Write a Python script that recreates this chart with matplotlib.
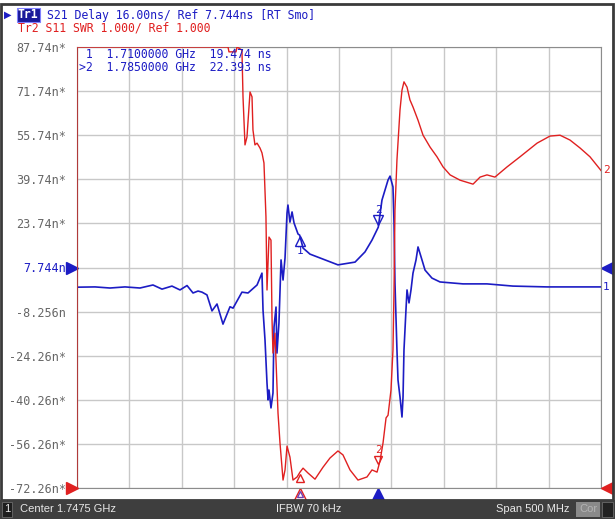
import numpy as np
import matplotlib.pyplot as plt
from matplotlib.patches import Rectangle
from matplotlib.transforms import offset_copy, blended_transform_factory

BLUE = '#1c1cc4'
RED = '#e02020'
GRID = '#c8c8c8'

# sweep settings (GHz)
center_ghz = 1.7475
span_ghz = 0.5
f_start = center_ghz - span_ghz / 2
f_stop = center_ghz + span_ghz / 2

# Tr1: S21 group delay, 16 ns/div, ref 7.744 ns at centre line
delay_ref = 7.744
delay_div = 16.0
# Tr2: S11 SWR, 1/div, ref 1.000 at bottom line
swr_ref = 1.0
swr_div = 1.0

ytick_labels = ['87.74n*', '71.74n*', '55.74n*', '39.74n*', '23.74n*', '7.744n',
                '-8.256n', '-24.26n*', '-40.26n*', '-56.26n*', '-72.26n*']

delay_freq = [1.4975, 1.5147, 1.5290, 1.5433, 1.5576, 1.5700, 1.5786, 1.5881, 1.5958,
              1.6025, 1.6082, 1.6130, 1.6168, 1.6215, 1.6263, 1.6311, 1.6368, 1.6435,
              1.6464, 1.6549, 1.6607, 1.6693, 1.6740, 1.6750, 1.6769, 1.6788, 1.6798,
              1.6807, 1.6826, 1.6845, 1.6855, 1.6874, 1.6883, 1.6902, 1.6922, 1.6941,
              1.6960, 1.6979, 1.6988, 1.7007, 1.7027, 1.7046, 1.7084, 1.7100, 1.7132,
              1.7198, 1.7294, 1.7465, 1.7628, 1.7723, 1.7790, 1.7850, 1.7885, 1.7943,
              1.7962, 1.7990, 1.8000, 1.8009, 1.8028, 1.8038, 1.8057, 1.8076, 1.8086,
              1.8095, 1.8114, 1.8124, 1.8143, 1.8162, 1.8181, 1.8210, 1.8229, 1.8258,
              1.8296, 1.8362, 1.8439, 1.8658, 1.8887, 1.9135, 1.9460, 1.9975]
delay_ns = [0.6, 0.7, 0.3, 0.7, 0.3, 1.4, -0.1, 1.0, -0.4,
            1.2, -1.5, -0.8, -1.2, -2.2, -8.0, -5.5, -12.8, -6.5,
            -7.0, -1.2, -1.5, 1.4, 5.7, -7.7, -18.6, -34.2, -40.3,
            -36.7, -43.2, -37.8, -13.8, -6.6, -23.3, -12.4, 10.5, 3.2,
            11.2, 27.5, 30.4, 24.2, 27.9, 23.9, 19.9, 19.474, 14.8,
            12.6, 11.2, 8.7, 9.7, 13.4, 17.7, 22.393, 32.2, 39.5,
            40.9, 37.0, 23.9, 2.1, -22.2, -33.1, -39.2, -46.5, -39.2,
            -22.2, -7.7, -0.4, -5.1, -0.4, 5.7, 10.5, 15.2, 11.6,
            6.8, 3.9, 2.5, 1.8, 1.8, 1.0, 0.7, 0.7]

swr_freq = [1.4975, 1.6416, 1.6425, 1.6492, 1.6502, 1.6549, 1.6559, 1.6578, 1.6597,
            1.6626, 1.6645, 1.6654, 1.6673, 1.6693, 1.6721, 1.6740, 1.6759, 1.6778,
            1.6788, 1.6807, 1.6826, 1.6836, 1.6845, 1.6864, 1.6893, 1.6912, 1.6941,
            1.6960, 1.6979, 1.7007, 1.7036, 1.7075, 1.7103, 1.7132, 1.7179, 1.7246,
            1.7322, 1.7389, 1.7465, 1.7513, 1.7580, 1.7656, 1.7742, 1.7790, 1.7838,
            1.7866, 1.7895, 1.7924, 1.7943, 1.7971, 1.7990, 1.8000, 1.8009, 1.8028,
            1.8057, 1.8076, 1.8095, 1.8124, 1.8152, 1.8181, 1.8229, 1.8277, 1.8344,
            1.8410, 1.8468, 1.8535, 1.8630, 1.8754, 1.8821, 1.8887, 1.8963, 1.9078,
            1.9202, 1.9365, 1.9488, 1.9584, 1.9679, 1.9775, 1.9870, 1.9975]
swr_val = [11.0, 11.0, 10.89, 10.89, 11.0, 10.93, 9.87, 8.78, 8.96,
           9.98, 9.87, 9.12, 8.78, 8.82, 8.71, 8.60, 8.37, 7.15,
           5.49, 6.69, 6.62, 4.81, 4.06, 4.51, 2.70, 2.02, 1.18,
           1.41, 1.95, 1.70, 1.18, 1.25, 1.36, 1.45, 1.34, 1.20,
           1.47, 1.68, 1.84, 1.75, 1.41, 1.18, 1.25, 1.41, 1.36,
           1.61, 2.02, 2.59, 2.65, 3.22, 4.13, 5.5, 7.3, 8.44,
           9.57, 10.02, 10.21, 10.09, 9.80, 9.64, 9.34, 9.00, 8.73,
           8.51, 8.28, 8.10, 7.98, 7.89, 8.05, 8.10, 8.05, 8.28,
           8.51, 8.82, 8.98, 9.00, 8.89, 8.71, 8.51, 8.20]

marker_freq = [1.7100, 1.7850]
marker_delay = [19.474, 22.393]
marker_table = [' 1  1.7100000 GHz  19.474 ns', '>2  1.7850000 GHz  22.393 ns']

W, H = 615, 519


def fx(x):
    return x / W


def fy(y):
    return 1 - y / H


fig = plt.figure(figsize=(W / 100, H / 100), dpi=100)
fig.patch.set_facecolor('white')
ax = fig.add_axes([fx(77), fy(488), 524 / W, 441 / H])
ax2 = ax.twinx()

# graticule
ax.set_xlim(f_start, f_stop)
ax.set_ylim(delay_ref - 5 * delay_div, delay_ref + 5 * delay_div)
ax.set_xticks(np.linspace(f_start, f_stop, 11))
ax.set_xticklabels([])
ytick_vals = delay_ref + delay_div * np.arange(5, -6, -1)
ax.set_yticks(ytick_vals)
ax.set_yticklabels(ytick_labels, family='DejaVu Sans Mono', fontsize=8.5, color='#666666')
for lab in ax.get_yticklabels():
    if lab.get_text() == '7.744n':
        lab.set_color(BLUE)
ax.tick_params(length=0, pad=8)
ax.grid(True, color=GRID, lw=1.0)
for side in ['top', 'right', 'bottom']:
    ax.spines[side].set_color('#8c8c8c')
ax.spines['left'].set_color('#b03a3a')

ax2.set_ylim(swr_ref, swr_ref + 10 * swr_div)
ax2.set_yticks([])
for s in ax2.spines.values():
    s.set_visible(False)

# traces
ax.plot(delay_freq, delay_ns, color=BLUE, lw=1.2)
ax2.plot(swr_freq, swr_val, color=RED, lw=1.0)

# trace markers
marker_swr = np.interp(marker_freq, swr_freq, swr_val)
below = offset_copy(ax.transData, fig=fig, y=-4.5, units='points')
ax.plot(marker_freq[0], marker_delay[0], marker='^', ms=7, mfc='none', mec=BLUE, mew=1,
        transform=below)
ax.text(marker_freq[0], marker_delay[0], '1', color=BLUE, fontsize=8, ha='center', va='top',
        family='DejaVu Sans Mono', transform=offset_copy(ax.transData, fig=fig, y=-8, units='points'))
above = offset_copy(ax.transData, fig=fig, y=5, units='points')
ax.plot(marker_freq[1], marker_delay[1], marker='v', ms=7, mfc='none', mec=BLUE, mew=1,
        transform=above)
ax.text(marker_freq[1], marker_delay[1], '2', color=BLUE, fontsize=8, ha='center', va='bottom',
        family='DejaVu Sans Mono', transform=offset_copy(ax.transData, fig=fig, y=9, units='points'))

below2 = offset_copy(ax2.transData, fig=fig, y=-4, units='points')
ax2.plot(marker_freq[0], marker_swr[0], marker='^', ms=6, mfc='none', mec=RED, mew=1,
         transform=below2)
above2 = offset_copy(ax2.transData, fig=fig, y=5, units='points')
ax2.plot(marker_freq[1], marker_swr[1], marker='v', ms=6, mfc='none', mec=RED, mew=1,
         transform=above2)
ax2.text(marker_freq[1], marker_swr[1], '2', color=RED, fontsize=8, ha='center', va='bottom',
         family='DejaVu Sans Mono', transform=offset_copy(ax2.transData, fig=fig, y=9, units='points'))

# trace end numbers
ax.text(1.004, delay_ns[-1], '1', color=BLUE, fontsize=8, va='center', family='DejaVu Sans Mono',
        transform=blended_transform_factory(ax.transAxes, ax.transData), clip_on=False)
ax2.text(1.004, swr_val[-1], '2', color=RED, fontsize=8, va='center', family='DejaVu Sans Mono',
         transform=blended_transform_factory(ax2.transAxes, ax2.transData), clip_on=False)

# reference level arrows
tb = blended_transform_factory(ax.transAxes, ax.transData)
ax.plot([-0.01], [delay_ref], marker='>', ms=8, color=BLUE, transform=tb, clip_on=False)
ax.plot([1.012], [delay_ref], marker='<', ms=8, color=BLUE, transform=tb, clip_on=False)
tr = blended_transform_factory(ax2.transAxes, ax2.transData)
ax2.plot([-0.01], [swr_ref], marker='>', ms=8, color=RED, transform=tr, clip_on=False)
ax2.plot([1.012], [swr_ref], marker='<', ms=8, color=RED, transform=tr, clip_on=False)

# stimulus markers under the graticule
ts = blended_transform_factory(ax.transData, ax.transAxes)
ax.plot([marker_freq[0]], [-0.014], marker='^', ms=8, mfc='none', mec=RED, mew=1,
        transform=ts, clip_on=False)
ax.plot([marker_freq[0]], [-0.014], marker='^', ms=5, mfc='none', mec='#7040b0', mew=1,
        transform=ts, clip_on=False)
ax.plot([marker_freq[1]], [-0.014], marker='^', ms=8, color=BLUE, transform=ts, clip_on=False)

# marker table
for i, line in enumerate(marker_table):
    fig.text(fx(79), fy(55 + 12 * i), line, color=BLUE, family='DejaVu Sans Mono',
             fontsize=8.3, va='center')

# header
fig.text(fx(18), fy(15), 'Tr1', color='white', family='DejaVu Sans Mono', fontsize=8.3,
         va='center', fontweight='bold',
         bbox=dict(boxstyle='square,pad=0.08', fc='#1a1a9a', ec='#8080ff', lw=0.8))
fig.text(fx(47), fy(15), 'S21 Delay 16.00ns/ Ref 7.744ns [RT Smo]', color=BLUE,
         family='DejaVu Sans Mono', fontsize=8.3, va='center')
fig.text(fx(18), fy(28), 'Tr2 S11 SWR 1.000/ Ref 1.000', color=RED,
         family='DejaVu Sans Mono', fontsize=8.3, va='center')
fig.text(fx(4), fy(15), '\u25b6', color=BLUE, fontsize=7, va='center', family='DejaVu Sans')

# outer frame and status bar
fig.patches.append(Rectangle((fx(1), fy(500)), fx(612), (496 / H), transform=fig.transFigure,
                             fill=False, ec='#3a3a3a', lw=2))
fig.patches.append(Rectangle((0, 0), 1, 19 / H, transform=fig.transFigure,
                             fc='#3e3e3e', ec='none'))
fig.patches.append(Rectangle((fx(2), fy(517)), 10 / W, 15 / H, transform=fig.transFigure,
                             fc='#1e1e1e', ec='#6a6a6a', lw=0.6))
fig.patches.append(Rectangle((fx(576), fy(517)), 24 / W, 15 / H, transform=fig.transFigure,
                             fc='#8a8a8a', ec='none'))
fig.patches.append(Rectangle((fx(602), fy(517)), 11 / W, 15 / H, transform=fig.transFigure,
                             fc='#222222', ec='#6a6a6a', lw=0.6))
sb_y = fy(509.5)
fig.text(fx(4), sb_y, '1', color='#e8e8e8', family='Liberation Sans', fontsize=8, va='center')
fig.text(fx(20), sb_y, 'Center 1.7475 GHz', color='#e8e8e8', family='Liberation Sans',
         fontsize=8, va='center')
fig.text(fx(309), sb_y, 'IFBW 70 kHz', color='#e8e8e8', family='Liberation Sans',
         fontsize=8, va='center', ha='center')
fig.text(fx(569), sb_y, 'Span 500 MHz', color='#e8e8e8', family='Liberation Sans',
         fontsize=8, va='center', ha='right')
fig.text(fx(588), sb_y, 'Cor', color='#b4b4b4', family='Liberation Sans',
         fontsize=8, va='center', ha='center')

fig.savefig('out.png', dpi=100)
